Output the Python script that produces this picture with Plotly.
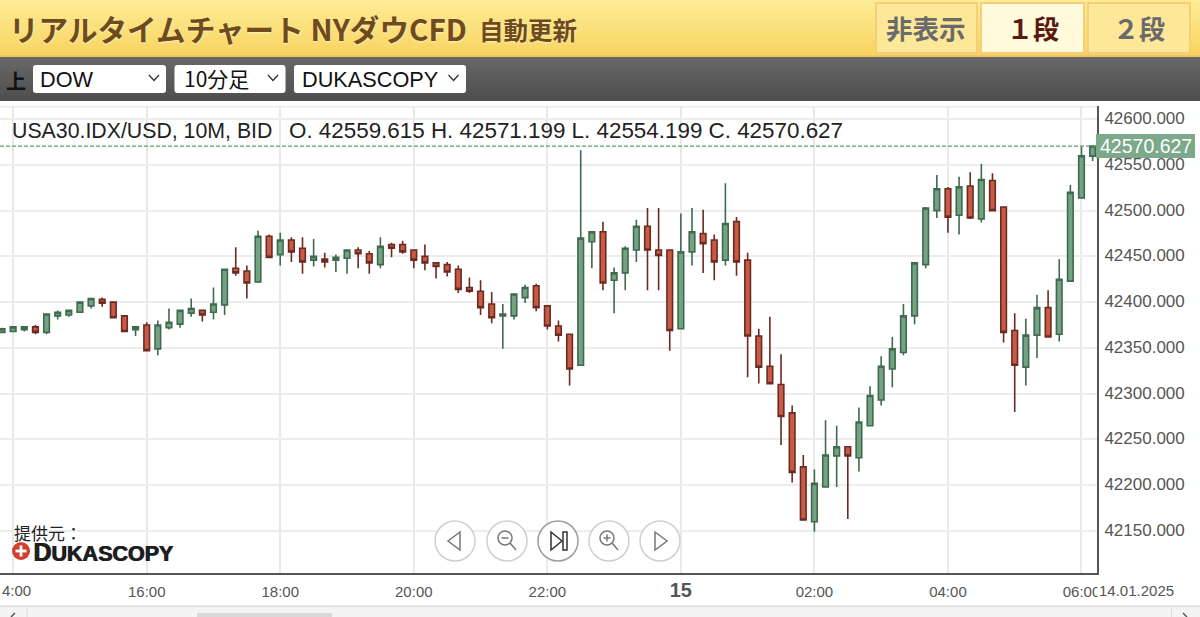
import pandas as pd
import plotly.graph_objects as go

W, H = 1200, 617
PL, PR, PT, PB = 0, 1097, 106, 573

times = pd.date_range("2025-01-14 13:50", periods=99, freq="10min")
opens = [42367,42368,42370,42373,42367,42385,42386,42389,42396,42403,42400,42385,42370,42375,42349,42372,42376,42388,42391,42389,
         42397,42437,42434,42422,42472,42452,42468,42459,42446,42447,42446,42448,42457,42453,42441,42463,42463,42457,42450,42443,
         42441,42436,42416,42412,42398,42385,42385,42405,42418,42396,42374,42365,42331,42466,42477,42424,42432,42457,42483,42457,
         42457,42371,42455,42475,42468,42446,42488,42446,42363,42330,42310,42279,42220,42160,42198,42232,42242,42230,42265,42293,
         42327,42345,42385,42441,42500,42524,42495,42527,42491,42533,42504,42369,42329,42364,42394,42365,42423,42514,42559.615]
highs = [42372,42373,42373,42375,42387,42391,42391,42400,42404,42405,42400,42385,42373,42378,42380,42393,42391,42404,42391,42416,
         42436,42460,42440,42478,42474,42476,42471,42471,42469,42454,42452,42457,42460,42456,42471,42465,42467,42457,42463,42443,
         42444,42440,42427,42424,42411,42398,42409,42419,42420,42396,42380,42365,42566,42477,42488,42438,42461,42490,42503,42503,
         42457,42497,42503,42501,42474,42530,42493,42454,42371,42384,42343,42287,42233,42217,42271,42265,42242,42285,42308,42341,
         42362,42398,42443,42504,42539,42526,42537,42542,42551,42541,42504,42388,42382,42408,42413,42447,42528,42570,42571.199]
lows = [42366,42368,42368,42365,42365,42381,42384,42389,42393,42395,42383,42368,42363,42347,42342,42370,42372,42384,42379,42381,
        42386,42429,42404,42421,42449,42440,42444,42431,42439,42438,42433,42431,42437,42431,42437,42449,42453,42437,42435,42426,
        42428,42410,42410,42386,42377,42349,42381,42399,42390,42370,42357,42309,42331,42437,42413,42388,42413,42444,42413,42413,
        42347,42371,42440,42432,42424,42440,42429,42318,42311,42311,42244,42203,42162,42149,42198,42198,42163,42215,42265,42287,
        42307,42342,42376,42437,42492,42476,42474,42491,42487,42500,42356,42280,42309,42339,42362,42357,42423,42513,42554.199]
closes = [42371,42373,42373,42367,42387,42389,42391,42400,42404,42399,42383,42368,42373,42347,42375,42378,42391,42393,42386,42398,
          42436,42432,42421,42472,42449,42468,42455,42444,42450,42444,42449,42457,42453,42443,42461,42459,42455,42446,42443,42439,
          42433,42414,42412,42394,42383,42387,42409,42416,42394,42374,42364,42327,42470,42477,42421,42432,42459,42483,42457,42451,
          42369,42455,42477,42464,42444,42486,42444,42363,42329,42311,42275,42214,42162,42202,42233,42242,42232,42269,42298,42330,
          42349,42385,42443,42503,42524,42493,42526,42492,42534,42500,42367,42331,42364,42394,42362,42425,42520,42560,42570.627]

y_ticks = [42150, 42200, 42250, 42300, 42350, 42400, 42450, 42500, 42550, 42600]
x_tick_vals = ["2025-01-14 14:00", "2025-01-14 16:00", "2025-01-14 18:00", "2025-01-14 20:00", "2025-01-14 22:00",
               "2025-01-15 00:00", "2025-01-15 02:00", "2025-01-15 04:00", "2025-01-15 06:00"]
x_tick_text = ["14:00", "16:00", "18:00", "20:00", "22:00",
               "<b><span style='font-size:20px'>15</span></b>", "02:00", "04:00", "06:00"]
title_text = "リアルタイムチャート NYダウCFD"
last_close = 42570.627
info_symbol = "USA30.IDX/USD, 10M, BID"
info_ohlc = "O. 42559.615 H. 42571.199 L. 42554.199 C. 42570.627"

JP = "Noto Sans CJK JP"
LAT = "Liberation Sans"


def px(x):
    return (x - PL) / (PR - PL)


def py(y):
    return (PB - y) / (PB - PT)


shapes = []
annotations = []


def rect(x0, y0, x1, y1, fill, line=None, lw=0, layer="above"):
    shapes.append(dict(type="rect", xref="paper", yref="paper", x0=px(x0), x1=px(x1), y0=py(y1), y1=py(y0),
                       fillcolor=fill, line=dict(color=line or fill, width=lw), layer=layer))


def circle(cx, cy, r, fill, line, lw=1.5):
    shapes.append(dict(type="circle", xref="paper", yref="paper", x0=px(cx - r), x1=px(cx + r), y0=py(cy + r),
                       y1=py(cy - r), fillcolor=fill, line=dict(color=line, width=lw), layer="above"))


def poly(points, color, lw=1.5, fill=None, close=False):
    d = "M" + " L".join(f"{px(a):.5f},{py(b):.5f}" for a, b in points) + (" Z" if close else "")
    shapes.append(dict(type="path", xref="paper", yref="paper", path=d, line=dict(color=color, width=lw),
                       fillcolor=fill or "rgba(0,0,0,0)", layer="above"))


def text(x, y, s, size, color, anchor="left", bold=False, family=JP, **font_extra):
    annotations.append(dict(xref="paper", yref="paper", x=px(x), y=py(y), text=f"<b>{s}</b>" if bold else s,
                            showarrow=False, xanchor=anchor, yanchor="middle", borderpad=0,
                            font=dict(size=size, color=color, family=family, **font_extra)))


def mix(a, b, t):
    return "rgb(" + ",".join(str(round(a[i] + (b[i] - a[i]) * t)) for i in range(3)) + ")"


# page header gradient
for i in range(56):
    rect(0, i, W, i + 1.2, mix((254, 236, 150), (248, 212, 96), i / 55))
rect(0, 55, W, 57, "#EDC75E")
for i in range(44):
    rect(0, 57 + i, W, 58.2 + i, mix((104, 104, 104), (78, 78, 78), i / 43))

# tabs
for x0, x1, fill in [(875, 978, "#FCE898"), (980, 1085, "#FFFBDC"), (1087, 1191, "#FCE898")]:
    rect(x0, 2, x1, 54, "#F6CE78")
    rect(x0 + 2, 4, x1 - 2, 52, fill)
text(926, 27, "非表示", 26.5, "#6A6A6A", "center", True)
text(1033, 27, "１段", 26, "#5A1A10", "center", True)
text(1139, 27, "２段", 26, "#6A6A6A", "center", True)
text(8, 28, title_text, 29.6, "#6E4A1C", "left", True, shadow="0 1px 2px #fff3c0")
text(478, 29, "自動更新", 24.5, "#6E4A1C", "left", True, shadow="0 1px 2px #fff3c0")

# toolbar
text(15.5, 80, "上", 20, "#111111", "center", True)
for x0, x1, cx in [(33, 166, 154), (174.5, 285.5, 273), (294, 466, 453.5)]:
    r = 3
    shapes.append(dict(type="path", xref="paper", yref="paper", layer="above",
                       path=f"M{px(x0 + r)},{py(65)} L{px(x1 - r)},{py(65)} Q{px(x1)},{py(65)} {px(x1)},{py(65 + r)} "
                            f"L{px(x1)},{py(93 - r)} Q{px(x1)},{py(93)} {px(x1 - r)},{py(93)} L{px(x0 + r)},{py(93)} "
                            f"Q{px(x0)},{py(93)} {px(x0)},{py(93 - r)} L{px(x0)},{py(65 + r)} Q{px(x0)},{py(65)} {px(x0 + r)},{py(65)} Z",
                       fillcolor="#FFFFFF", line=dict(color="#FFFFFF", width=0)))
    poly([(cx - 5, 75), (cx, 80.5), (cx + 5, 75)], "#333333", 1.3)
text(39, 79, "DOW", 21.7, "#111111", family=LAT)
text(183, 78, "10分足", 21, "#111111", family=JP)
text(301, 79, "DUKASCOPY", 21.7, "#111111", family=LAT)

# chart frame bits
rect(0, 101, W, 106, "#FFFFFF")
rect(0, 106, PR, 107.5, "#EEEEEE", layer="below")
shapes.append(dict(type="line", xref="paper", yref="y", x0=0, x1=1, y0=last_close, y1=last_close,
                   line=dict(color="#5E9E72", width=1.2, dash="4px,2px"), layer="above"))
rect(1096, 134, 1195, 158, "#7BA98A")
text(1145.5, 146, f"{last_close:.3f}", 19.5, "#FFFFFF", "center", family=LAT)

# info line
text(10.5, 131, info_symbol, 21.3, "#222222", family=LAT)
text(288, 131, info_ohlc, 22.4, "#222222", family=LAT)

# credit and logo
text(13, 532, "提供元：", 17, "#222222", family=JP)
circle(21, 551, 9, "#D0402F", "#D0402F", 0)
rect(19.6, 545.5, 22.4, 556.5, "#FFFFFF")
rect(15.5, 549.6, 26.5, 552.4, "#FFFFFF")
text(32, 552, "D<span style='font-size:21.5px'>UKASCOPY</span>", 25, "#1E1E1E", "left", True, family=LAT,
     shadow="1px 0 0 #1E1E1E")

# nav buttons
for cx, col in [(455, "#CFCFCF"), (507, "#CFCFCF"), (558, "#9C9C9C"), (609, "#CFCFCF"), (660, "#CFCFCF")]:
    circle(cx, 541, 20, "rgba(255,255,255,0.85)", col, 1.5)
poly([(460, 532), (448, 541), (460, 550)], "#777777", 1.5, close=True)
circle(505, 538, 7, "rgba(0,0,0,0)", "#777777", 1.5)
poly([(501.5, 538), (508.5, 538)], "#777777", 1.5)
poly([(510, 543), (516, 550)], "#777777", 1.5)
poly([(551, 532), (551, 550), (562, 541)], "#333333", 1.5, close=True)
rect(563, 532, 567, 550, "rgba(0,0,0,0)", "#333333", 1.5)
circle(607, 538, 7, "rgba(0,0,0,0)", "#777777", 1.5)
poly([(603.5, 538), (610.5, 538)], "#777777", 1.5)
poly([(607, 534.5), (607, 541.5)], "#777777", 1.5)
poly([(612, 543), (618, 550)], "#777777", 1.5)
poly([(655, 532), (667, 541), (655, 550)], "#777777", 1.5, close=True)

# clipped 14:00 tick at the left edge, and date label masking the clipped 06:00 tick
text(1, 590, "4:00", 15, "#555555", family=LAT)
annotations.append(dict(xref="paper", yref="paper", x=px(1097), y=py(590), text="14.01.2025", showarrow=False,
                        xanchor="left", yanchor="middle", bgcolor="#FFFFFF", borderpad=1,
                        font=dict(size=15, color="#555555", family=LAT)))

# scrollbar
rect(0, 606, W, 617, "#F4F4F4")
rect(0, 605.5, W, 607, "#DDDDDD")
rect(197, 613, 332, 617, "#D9D9D9")
rect(26.5, 607, 27.5, 617, "#DDDDDD")
rect(1171, 607, 1172, 617, "#DDDDDD")
poly([(15, 613), (11, 617)], "#555555", 1.5)
poly([(1183, 613), (1187, 617)], "#555555", 1.5)

fig = go.Figure(go.Candlestick(
    x=times, open=opens, high=highs, low=lows, close=closes, whiskerwidth=0,
    increasing=dict(line=dict(color="#3F6A4E", width=1.6), fillcolor="#74A384"),
    decreasing=dict(line=dict(color="#6B2A22", width=1.6), fillcolor="#C95B45"),
    hoverinfo="skip",
))
fig.update_layout(
    width=W, height=H, autosize=False, showlegend=False,
    margin=dict(l=PL, r=W - PR, t=PT, b=H - PB, pad=0),
    paper_bgcolor="#FFFFFF", plot_bgcolor="#FFFFFF",
    shapes=shapes, annotations=annotations, boxgap=0.28,
    xaxis=dict(
        type="date", range=["2025-01-14 13:48:10", "2025-01-15 06:13:56"], rangeslider=dict(visible=False),
        tickmode="array", tickvals=x_tick_vals, ticktext=x_tick_text, showgrid=True, gridcolor="#E9E9E9", gridwidth=2,
        showline=True, linecolor="#555555", linewidth=2, ticks="", zeroline=False,
        ticklabelstandoff=4, tickfont=dict(size=15, color="#555555", family=LAT),
    ),
    yaxis=dict(
        side="right", range=[42104, 42614.4], tickmode="array", tickvals=y_ticks,
        ticktext=[f"{v:.3f}" for v in y_ticks], showgrid=True, gridcolor="#EDEDED", gridwidth=2,
        showline=True, linecolor="#555555", linewidth=2, ticks="", zeroline=False,
        ticklabelstandoff=2, ticklabelshift=-1, tickfont=dict(size=17, color="#555555", family=LAT),
    ),
)
fig.write_html("out.html", config=dict(displayModeBar=False),
               post_script="document.body.style.margin='0';document.body.style.overflow='hidden';")
